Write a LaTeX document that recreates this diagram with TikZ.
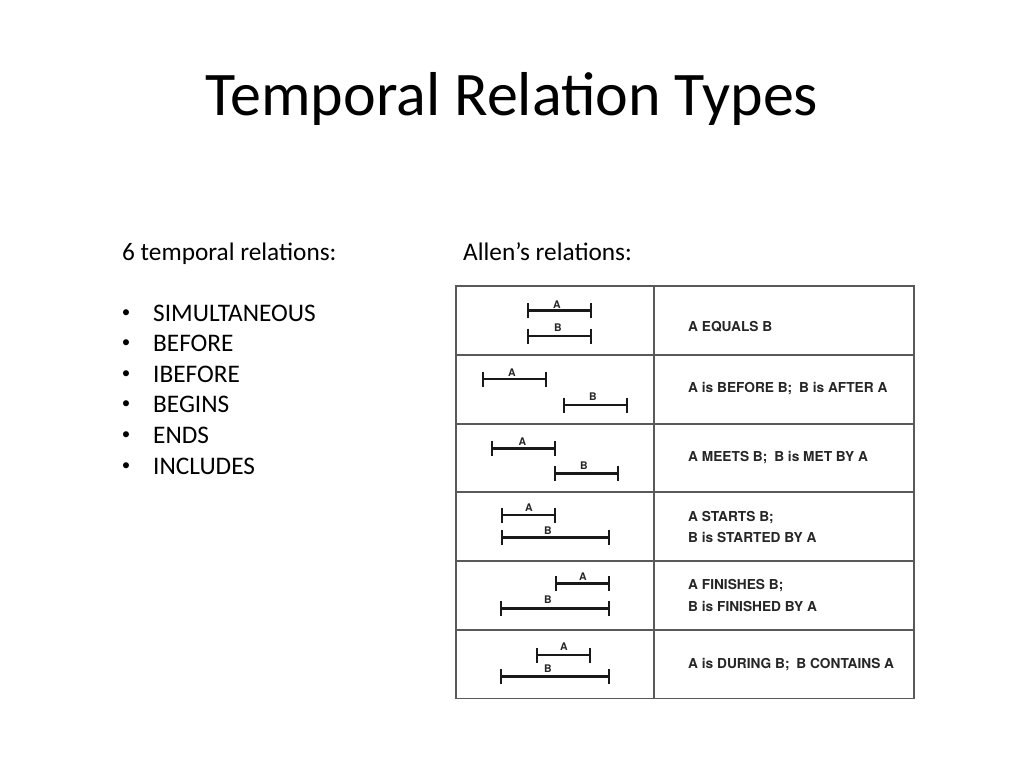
\documentclass[tikz,border=0pt]{standalone}
\usepackage{fontspec}
\setmainfont{Carlito}
\newfontfamily\tabfont{TeX Gyre Heros}
\begin{document}
\begin{tikzpicture}[x=1pt,y=-1pt,
  titletext/.style={anchor=base,inner sep=0pt,font=\fontsize{62}{70}\selectfont},
  bodytext/.style={anchor=base west,inner sep=0pt,font=\fontsize{25.3}{30}\selectfont},
  bullettext/.style={anchor=base,inner sep=0pt,font=\fontsize{17}{20}\selectfont},
  relation/.style={anchor=base west,inner sep=0pt,text=black!85,font=\tabfont\bfseries\fontsize{13.7}{15}\selectfont},
  ivlabel/.style={anchor=base,inner sep=0pt,text=black!85,font=\tabfont\bfseries\fontsize{10.5}{11}\selectfont},
  grid/.style={draw=black!65,line width=1.4pt},
  bar/.style={draw=black!90,line width=2.5pt}]
\useasboundingbox (0,0) rectangle (1024,768);
\fill[white] (0,0) rectangle (1024,768);
% interval macro: x1,x2,y
\def\ivl#1#2#3{\draw[bar] (#1,#3) -- (#2,#3);
  \draw[bar,line cap=butt] (#1,#3-7.5) -- (#1,#3+7.5);
  \draw[bar,line cap=butt] (#2,#3-7.5) -- (#2,#3+7.5);}
\node[titletext] (title) at (512,115) {Temporal Relation Types};
\node[bodytext] (left) at (122,260) {6 temporal relations:};
\foreach \t [count=\i] in {SIMULTANEOUS,BEFORE,IBEFORE,BEGINS,ENDS,INCLUDES}{
  \node[bodytext] (item\i) at (153,{321+30.6*(\i-1)}) {\t};
  \node[bullettext] (bul\i) at (126,{317+30.6*(\i-1)}) {•};
}
\node[bodytext] (allen) at (463,260) {Allen’s relations:};
% table
\draw[grid] (456,286) rectangle (914,698.5);
\draw[grid] (654,286) -- (654,698.5);
\foreach \y in {355,424,492,561,630}{\draw[grid] (456,\y) -- (914,\y);}
% row 1
\ivl{528}{591}{310.7}\ivl{528}{591}{336}
\node[ivlabel] (a1) at (557,308) {A};
\node[ivlabel] (b1) at (558,331) {B};
\node[relation] (r1) at (688,331) {A EQUALS B};
% row 2
\ivl{483}{546}{379}\ivl{564}{627}{405}
\node[ivlabel] (a2) at (512,376.5) {A};
\node[ivlabel] (b2) at (593,400) {B};
\node[relation] (r2) at (688,392.5) {A is BEFORE B;\enspace B is AFTER A};
% row 3
\ivl{492}{555}{448.3}\ivl{555}{618}{473.3}
\node[ivlabel] (a3) at (522.5,445.5) {A};
\node[ivlabel] (b3) at (584,469) {B};
\node[relation] (r3) at (688,461.5) {A MEETS B;\enspace B is MET BY A};
% row 4
\ivl{502}{555}{515}\ivl{502}{609}{537.3}
\node[ivlabel] (a4) at (529,511) {A};
\node[ivlabel] (b4) at (548,534) {B};
\node[relation] (r4a) at (688,521) {A STARTS B;};
\node[relation] (r4b) at (688,542) {B is STARTED BY A};
% row 5
\ivl{556}{609}{583.3}\ivl{501}{609}{608.3}
\node[ivlabel] (a5) at (583,580) {A};
\node[ivlabel] (b5) at (548,603) {B};
\node[relation] (r5a) at (688,589.5) {A FINISHES B;};
\node[relation] (r5b) at (688,611) {B is FINISHED BY A};
% row 6
\ivl{537}{590}{655}\ivl{501}{609}{676.7}
\node[ivlabel] (a6) at (564,650) {A};
\node[ivlabel] (b6) at (548,672) {B};
\node[relation] (r6) at (688,668) {A is DURING B;\enspace B CONTAINS A};
\end{tikzpicture}
\end{document}
